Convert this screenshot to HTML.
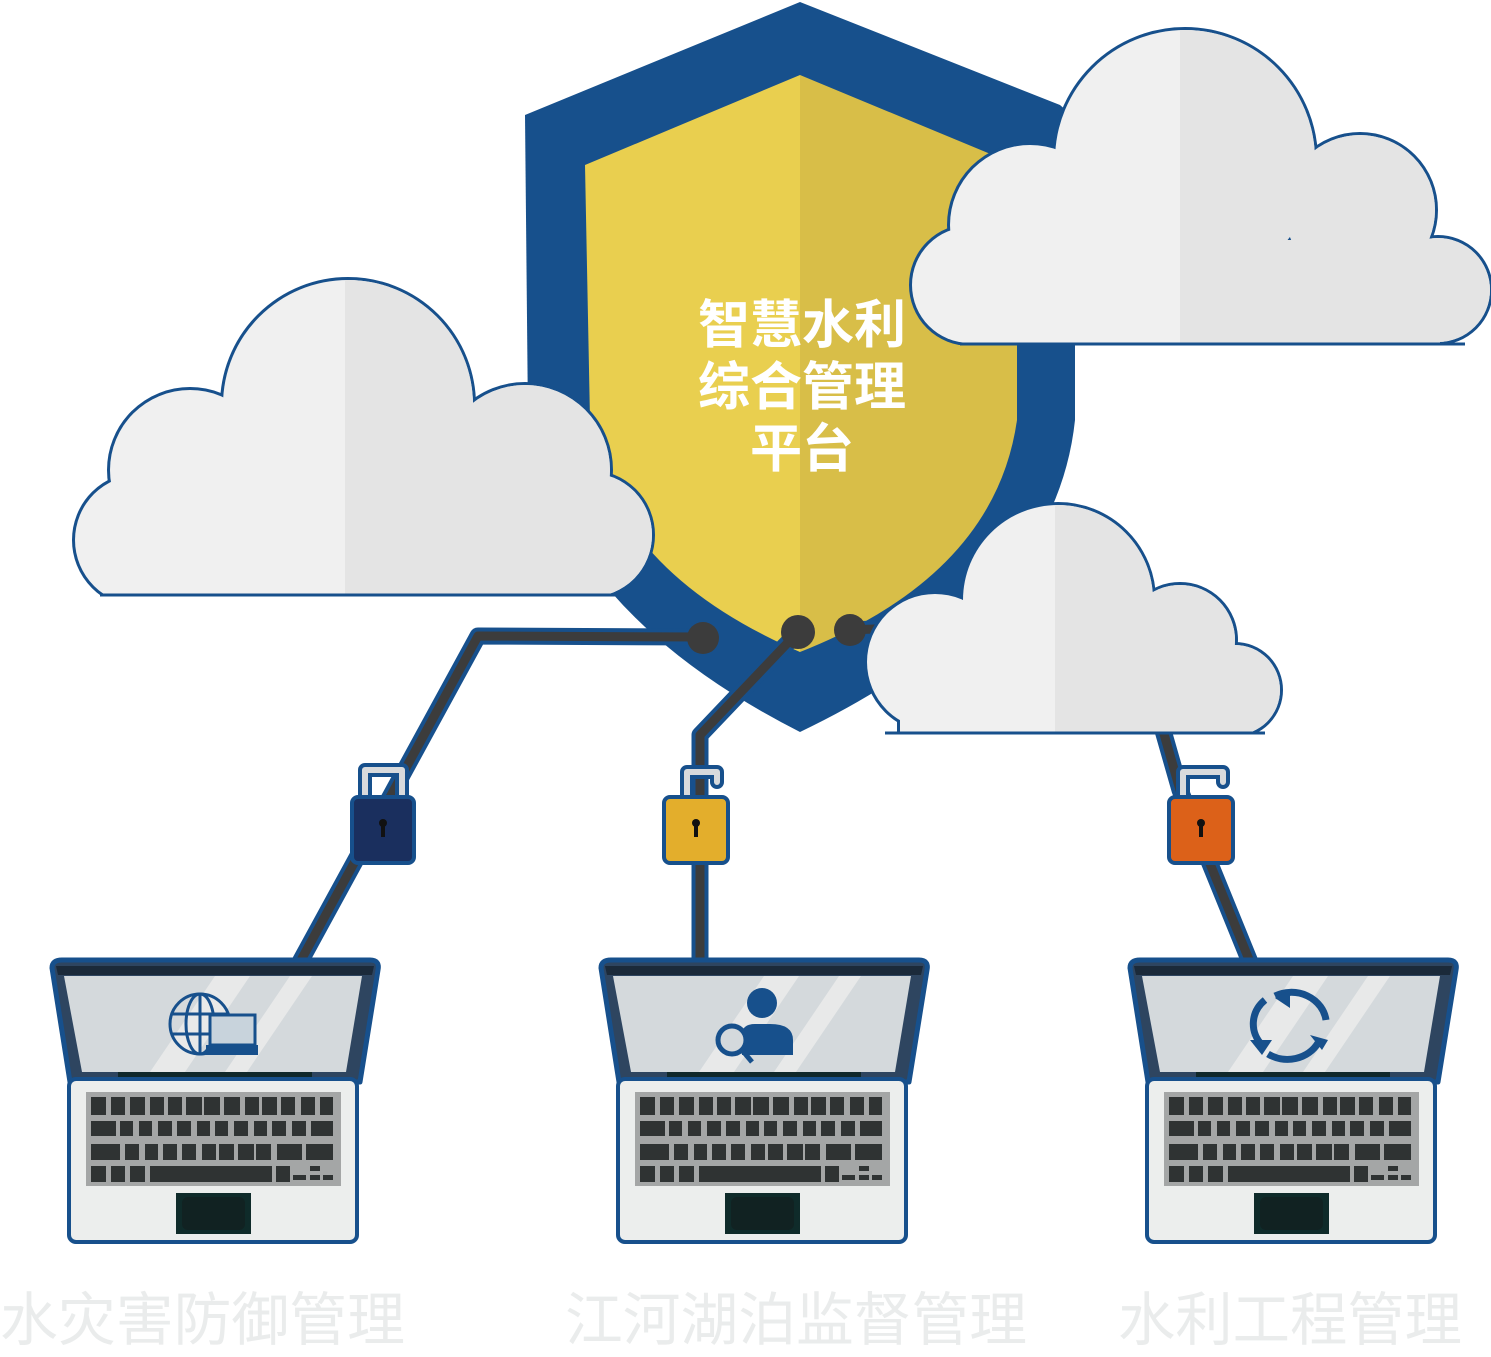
<!DOCTYPE html>
<html><head><meta charset="utf-8"><style>
html,body{margin:0;padding:0;background:#fff;}
svg{display:block}
</style></head><body>
<svg width="1491" height="1357" viewBox="0 0 1491 1357" xmlns="http://www.w3.org/2000/svg">
<defs>
<clipPath id="cL"><rect x="0" y="0" width="1491" height="596"/></clipPath>
<clipPath id="cLr"><rect x="345" y="0" width="400" height="596"/></clipPath>
<clipPath id="cR"><rect x="0" y="0" width="1491" height="345"/></clipPath>
<clipPath id="cRr"><rect x="1180" y="0" width="400" height="345"/></clipPath>
<clipPath id="cB"><rect x="0" y="0" width="1491" height="734"/></clipPath>
<clipPath id="cBr"><rect x="1055" y="0" width="400" height="734"/></clipPath>
<g id="lap">
  <path d="M52,968 Q52,960 62,960 L370,960 Q380,960 378,970 L360,1082 L70,1082 Z" fill="#2e4560" stroke="#17508c" stroke-width="5" stroke-linejoin="round"/>
  <path d="M56,966 L374,966 L372,975 L58,975 Z" fill="#1b2a3a"/>
  <path d="M64,976 L362,976 L346,1072 L82,1072 Z" fill="#d4d9dc"/>
  <path d="M150,1072 L215,976 L250,976 L185,1072 Z" fill="#e8e9e9"/>
  <path d="M225,1072 L290,976 L312,976 L247,1072 Z" fill="#e8e9e9"/>
  <rect x="118" y="1072" width="194" height="6" fill="#10282a"/>
  <rect x="69" y="1079" width="288" height="163" rx="7" fill="#eceeed" stroke="#17508c" stroke-width="4"/>
  <rect x="86" y="1092" width="255" height="94" fill="#a4a6a6"/>
  <g fill="#2f3333">
    <rect x="91" y="1097" width="15" height="18"/><rect x="111" y="1097" width="14" height="18"/><rect x="130" y="1097" width="15" height="18"/><rect x="150" y="1097" width="14" height="18"/><rect x="168" y="1097" width="14" height="18"/><rect x="186" y="1097" width="16" height="18"/><rect x="204" y="1097" width="16" height="18"/><rect x="224" y="1097" width="16" height="18"/><rect x="245" y="1097" width="14" height="18"/><rect x="262" y="1097" width="15" height="18"/><rect x="281" y="1097" width="14" height="18"/><rect x="301" y="1097" width="14" height="18"/><rect x="320" y="1097" width="13" height="18"/>
    <rect x="91" y="1121" width="25" height="15"/><rect x="120" y="1121" width="13" height="15"/><rect x="139" y="1121" width="13" height="15"/><rect x="158" y="1121" width="14" height="15"/><rect x="177" y="1121" width="14" height="15"/><rect x="197" y="1121" width="13" height="15"/><rect x="215" y="1121" width="13" height="15"/><rect x="234" y="1121" width="14" height="15"/><rect x="254" y="1121" width="13" height="15"/><rect x="272" y="1121" width="14" height="15"/><rect x="292" y="1121" width="14" height="15"/><rect x="311" y="1121" width="22" height="15"/>
    <rect x="91" y="1144" width="29" height="16"/><rect x="125" y="1144" width="14" height="16"/><rect x="145" y="1144" width="13" height="16"/><rect x="163" y="1144" width="14" height="16"/><rect x="182" y="1144" width="14" height="16"/><rect x="202" y="1144" width="14" height="16"/><rect x="219" y="1144" width="15" height="16"/><rect x="238" y="1144" width="16" height="16"/><rect x="256" y="1144" width="15" height="16"/><rect x="277" y="1144" width="25" height="16"/><rect x="306" y="1144" width="27" height="16"/>
    <rect x="91" y="1166" width="15" height="16"/><rect x="111" y="1166" width="14" height="16"/><rect x="130" y="1166" width="15" height="16"/><rect x="150" y="1166" width="122" height="16"/><rect x="276" y="1166" width="14" height="16"/>
    <rect x="293" y="1175" width="13" height="5"/><rect x="310" y="1166" width="10" height="5"/><rect x="310" y="1175" width="10" height="5"/><rect x="323" y="1175" width="10" height="5"/>
  </g>
  <rect x="176" y="1193" width="75" height="41" fill="#0f2b2a"/>
  <rect x="182" y="1197" width="63" height="33" rx="6" fill="#112222"/>
</g>
</defs>

<path d="M800,2 L1060,105 L1075,118 L1075,420 Q1055,610 800,732 Q560,610 528,420 L525,115 Z" fill="#17508c"/>
<path d="M800,75 L800,652 Q610,570 590,420 L585,165 Z" fill="#e9cf4f"/>
<path d="M800,75 L1017,165 L1017,420 Q995,575 800,652 Z" fill="#d8be48"/>

<g clip-path="url(#cL)">
  <g fill="#17508c" stroke="#17508c" stroke-width="6">
    <circle cx="348" cy="405" r="125"/><circle cx="190" cy="470" r="80"/><circle cx="140" cy="540" r="65"/><circle cx="525" cy="470" r="85"/><circle cx="590" cy="535" r="62"/><rect x="140" y="470" width="460" height="130"/>
  </g>
  <g fill="#f0f0f0">
    <circle cx="348" cy="405" r="125"/><circle cx="190" cy="470" r="80"/><circle cx="140" cy="540" r="65"/><circle cx="525" cy="470" r="85"/><circle cx="590" cy="535" r="62"/><rect x="140" y="470" width="460" height="130"/>
  </g>
  <g fill="#e4e4e4" clip-path="url(#cLr)">
    <circle cx="348" cy="405" r="125"/><circle cx="525" cy="470" r="85"/><circle cx="590" cy="535" r="62"/><rect x="140" y="470" width="460" height="130"/>
  </g>
</g>
<line x1="100" y1="595" x2="625" y2="595" stroke="#17508c" stroke-width="3"/>

<g clip-path="url(#cR)">
  <g fill="#17508c" stroke="#17508c" stroke-width="6">
    <circle cx="1185" cy="160" r="130"/><circle cx="1030" cy="225" r="80"/><circle cx="970" cy="285" r="58"/><circle cx="1360" cy="210" r="75"/><circle cx="1438" cy="290" r="52"/><rect x="970" y="240" width="470" height="110"/>
  </g>
  <g fill="#f0f0f0">
    <circle cx="1185" cy="160" r="130"/><circle cx="1030" cy="225" r="80"/><circle cx="970" cy="285" r="58"/><circle cx="1360" cy="210" r="75"/><circle cx="1438" cy="290" r="52"/><rect x="970" y="240" width="470" height="110"/>
  </g>
  <g fill="#e4e4e4" clip-path="url(#cRr)">
    <circle cx="1185" cy="160" r="130"/><circle cx="1360" cy="210" r="75"/><circle cx="1438" cy="290" r="52"/><rect x="970" y="240" width="470" height="110"/>
  </g>
</g>
<line x1="960" y1="344" x2="1465" y2="344" stroke="#17508c" stroke-width="3"/>

<g fill="none" stroke-linejoin="round">
  <g stroke="#17508c" stroke-width="17">
    <polyline points="703,637 478,636 300,962"/>
    <polyline points="798,632 700,735 700,962"/>
    <polyline points="850,630 900,628"/>
    <polyline points="1160,720 1180,790 1250,962"/>
  </g>
  <g stroke="#3c3c3c" stroke-width="9">
    <polyline points="703,637 478,636 300,962"/>
    <polyline points="798,632 700,735 700,962"/>
    <polyline points="850,630 900,628"/>
    <polyline points="1160,720 1180,790 1250,962"/>
  </g>
</g>
<circle cx="703" cy="638" r="16" fill="#3c3c3c"/>
<circle cx="798" cy="632" r="17" fill="#3c3c3c"/>
<circle cx="850" cy="630" r="16" fill="#3c3c3c"/>

<g clip-path="url(#cB)">
  <g fill="#17508c" stroke="#17508c" stroke-width="6">
    <circle cx="1058" cy="600" r="95"/><circle cx="935" cy="662" r="68"/><circle cx="1180" cy="640" r="55"/><circle cx="1235" cy="690" r="45"/><rect x="900" y="650" width="340" height="90"/>
  </g>
  <g fill="#f0f0f0">
    <circle cx="1058" cy="600" r="95"/><circle cx="935" cy="662" r="68"/><circle cx="1180" cy="640" r="55"/><circle cx="1235" cy="690" r="45"/><rect x="900" y="650" width="340" height="90"/>
  </g>
  <g fill="#e4e4e4" clip-path="url(#cBr)">
    <circle cx="1058" cy="600" r="95"/><circle cx="1180" cy="640" r="55"/><circle cx="1235" cy="690" r="45"/><rect x="900" y="650" width="340" height="90"/>
  </g>
</g>
<line x1="885" y1="733" x2="1265" y2="733" stroke="#17508c" stroke-width="3"/>

<g font-family="Liberation Sans, 'Noto Sans CJK SC', sans-serif" font-weight="bold" font-size="52" fill="#fff" text-anchor="middle">
  <text x="802" y="343">智慧水利</text>
  <text x="802" y="405">综合管理</text>
  <text x="802" y="467">平台</text>
</g>

<g stroke-linecap="round" stroke-linejoin="round">
  <path d="M365,800 L365,770 L402,770 L402,800" fill="none" stroke="#17508c" stroke-width="14"/>
  <path d="M365,800 L365,770 L402,770 L402,800" fill="none" stroke="#d8dadc" stroke-width="6"/>
  <path d="M687,800 L687,772 L717,772 L717,782" fill="none" stroke="#17508c" stroke-width="14"/>
  <path d="M687,800 L687,772 L717,772 L717,782" fill="none" stroke="#d8dadc" stroke-width="6"/>
  <path d="M1183,800 L1183,772 L1223,772 L1223,782" fill="none" stroke="#17508c" stroke-width="14"/>
  <path d="M1183,800 L1183,772 L1223,772 L1223,782" fill="none" stroke="#d8dadc" stroke-width="6"/>
</g>
<g stroke="#17508c" stroke-width="4">
  <rect x="352" y="797" width="62" height="66" rx="6" fill="#1a2f5e"/>
  <rect x="664" y="797" width="64" height="66" rx="6" fill="#e3ae2c"/>
  <rect x="1169" y="797" width="64" height="66" rx="6" fill="#dc6119"/>
</g>
<g fill="#111">
  <circle cx="383" cy="823" r="4"/><rect x="381" y="823" width="4" height="14"/>
  <circle cx="696" cy="823" r="4"/><rect x="694" y="823" width="4" height="14"/>
  <circle cx="1201" cy="823" r="4"/><rect x="1199" y="823" width="4" height="14"/>
</g>

<use href="#lap"/>
<use href="#lap" transform="translate(549,0)"/>
<use href="#lap" transform="translate(1078,0)"/>

<g fill="none" stroke="#17508c" stroke-width="3">
  <circle cx="200" cy="1024" r="30"/><ellipse cx="200" cy="1024" rx="14" ry="30"/><line x1="200" y1="994" x2="200" y2="1054"/><line x1="171" y1="1014" x2="229" y2="1014"/><line x1="171" y1="1034" x2="229" y2="1034"/>
</g>
<rect x="210" y="1015" width="45" height="30" fill="#c8d3dc" stroke="#17508c" stroke-width="3"/>
<rect x="206" y="1045" width="52" height="10" fill="#17508c"/>
<g fill="#17508c">
  <circle cx="762" cy="1003" r="15"/>
  <path d="M742,1055 L742,1035 Q742,1024 755,1024 L770,1024 Q793,1024 793,1040 L793,1055 Z"/>
</g>
<circle cx="732" cy="1040" r="14" fill="#d4d9dc" stroke="#17508c" stroke-width="5"/>
<line x1="742" y1="1050" x2="752" y2="1062" stroke="#17508c" stroke-width="5"/>
<g fill="none" stroke="#17508c" stroke-width="7">
  <path d="M1265,1000 A35,32 0 0 0 1262,1045"/>
  <path d="M1275,996 A35,32 0 0 1 1326,1020"/>
  <path d="M1318,1043 A35,32 0 0 1 1268,1054"/>
</g>
<g fill="#17508c">
  <polygon points="1250,1040 1272,1040 1262,1055"/><polygon points="1290,990 1290,1008 1275,998"/><polygon points="1310,1035 1328,1040 1322,1050"/>
</g>

<g font-family="Liberation Sans, 'Noto Sans CJK SC', sans-serif" font-size="58" fill="#eaecec">
  <text x="0" y="1340" textLength="405" lengthAdjust="spacingAndGlyphs">水灾害防御管理</text>
  <text x="565" y="1340" textLength="462" lengthAdjust="spacingAndGlyphs">江河湖泊监督管理</text>
  <text x="1118" y="1340" textLength="344" lengthAdjust="spacingAndGlyphs">水利工程管理</text>
</g>
</svg>
</body></html>
